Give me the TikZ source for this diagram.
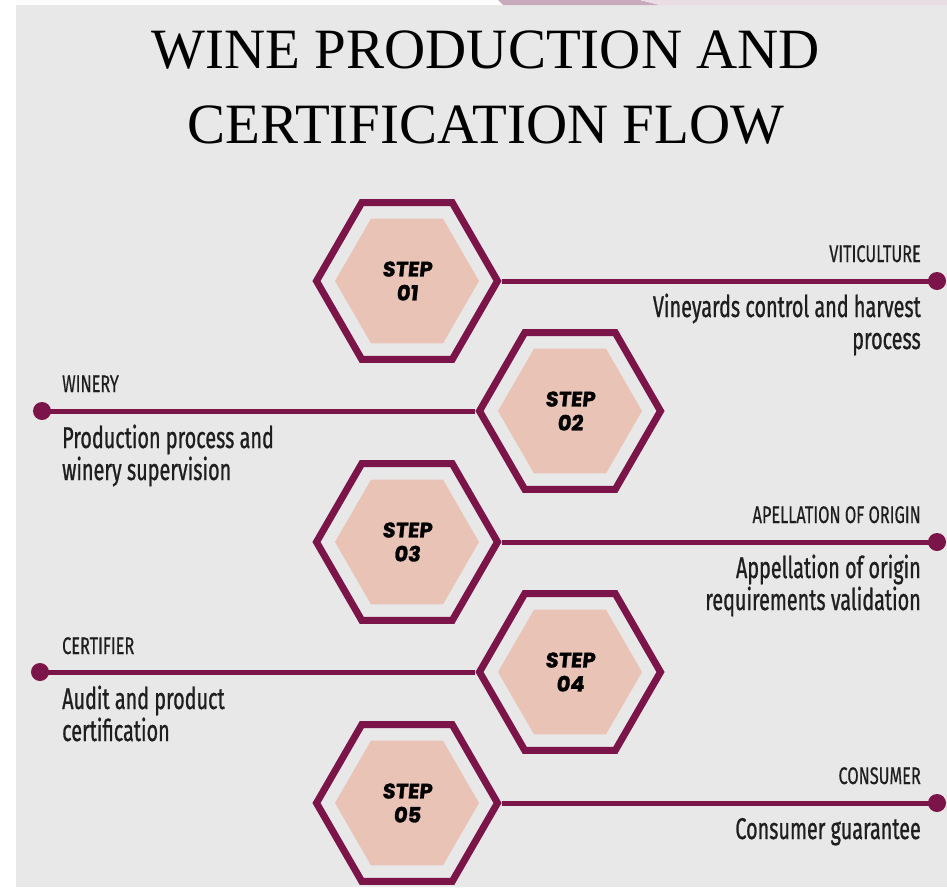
\documentclass[tikz,border=0pt]{standalone}
\usepackage{fontspec}
\setmainfont{Liberation Serif}
\newfontfamily\descfont[FakeStretch=0.66,FakeBold=0.8]{Fira Sans}
\newfontfamily\lblfont[FakeStretch=0.68,FakeBold=0.4]{Fira Sans}
\newfontfamily\stepfont[FakeSlant=0.1,FakeBold=1.5]{Poppins}
\usetikzlibrary{shapes.geometric}
\definecolor{wine}{HTML}{7A1449}
\definecolor{blush}{HTML}{E8C3B6}
\definecolor{bggrey}{HTML}{E8E8E8}
\definecolor{textdark}{HTML}{1E1E1E}
\definecolor{stripmauve}{HTML}{C9AABD}
\definecolor{strippale}{HTML}{EBDDE4}
\tikzset{
  hexout/.style={regular polygon, regular polygon sides=6, draw=wine, line width=7pt,
    minimum size=181pt, inner sep=0pt},
  hexin/.style={regular polygon, regular polygon sides=6, fill=blush, minimum size=144pt,
    inner sep=0pt, align=center, text=black,
    font=\stepfont\bfseries\fontsize{21}{24}\selectfont},
  dotend/.style={circle, fill=wine, minimum size=18pt, inner sep=0pt},
  conn/.style={draw=wine, line width=5pt},
  lbl/.style={font=\lblfont\fontsize{24}{26}\selectfont, text=textdark, inner sep=0pt},
  desc/.style={font=\descfont\fontsize{30}{33}\selectfont, text=textdark, inner sep=0pt},
  titletext/.style={font=\fontsize{57}{74}\selectfont, text=black, inner sep=0pt, anchor=base}
}
\begin{document}
\begin{tikzpicture}[x=1pt, y=-1pt]
\useasboundingbox (0,0) rectangle (947,887);
% background
\fill[bggrey] (0,0) rectangle (947,887);
\fill[white] (0,0) rectangle (16,887);
\fill[white] (0,0) rectangle (947,5);
\fill[stripmauve] (498,0) -- (640,0) -- (660,5) -- (503,5) -- cycle;
\fill[strippale] (640,0) -- (947,0) -- (947,5) -- (660,5) -- cycle;

% title
\node[titletext] (t1) at (486,68) {WINE PRODUCTION AND};
\node[titletext] (t2) at (486,143) {CERTIFICATION FLOW};

% hexagons
\foreach \n/\x/\y in {1/407/281, 2/570/411, 3/407/542, 4/570/672, 5/407/803}{
  \node[hexout] (h\n) at (\x,\y) {};
  \node[hexin] (s\n) at (\x,\y) {STEP\\0\n};
}

% end dots
\node[dotend] (d1) at (937,281) {};
\node[dotend] (d2) at (42,411) {};
\node[dotend] (d3) at (937,542) {};
\node[dotend] (d4) at (40,672) {};
\node[dotend] (d5) at (937,803) {};

% connectors
\draw[conn] (h1.east) -- (d1.center);
\draw[conn] (h2.west) -- (d2.center);
\draw[conn] (h3.east) -- (d3.center);
\draw[conn] (h4.west) -- (d4.center);
\draw[conn] (h5.east) -- (d5.center);

% right labels
\node[lbl, anchor=base east] (l1) at (921,262) {VITICULTURE};
\node[desc, anchor=base east] (a1) at (921,317) {Vineyards control and harvest};
\node[desc, anchor=base east] (b1) at (921,349) {process};

\node[lbl, anchor=base east] (l3) at (921,523) {APELLATION OF ORIGIN};
\node[desc, anchor=base east] (a3) at (921,578) {Appellation of origin};
\node[desc, anchor=base east] (b3) at (921,610) {requirements validation};

\node[lbl, anchor=base east] (l5) at (921,784) {CONSUMER};
\node[desc, anchor=base east] (a5) at (921,839) {Consumer guarantee};

% left labels
\node[lbl, anchor=base west] (l2) at (62,392) {WINERY};
\node[desc, anchor=base west] (a2) at (62,448) {Production process and};
\node[desc, anchor=base west] (b2) at (62,480) {winery supervision};

\node[lbl, anchor=base west] (l4) at (62,654) {CERTIFIER};
\node[desc, anchor=base west] (a4) at (62,709) {Audit and product};
\node[desc, anchor=base west] (b4) at (62,741) {certification};
\end{tikzpicture}
\end{document}
